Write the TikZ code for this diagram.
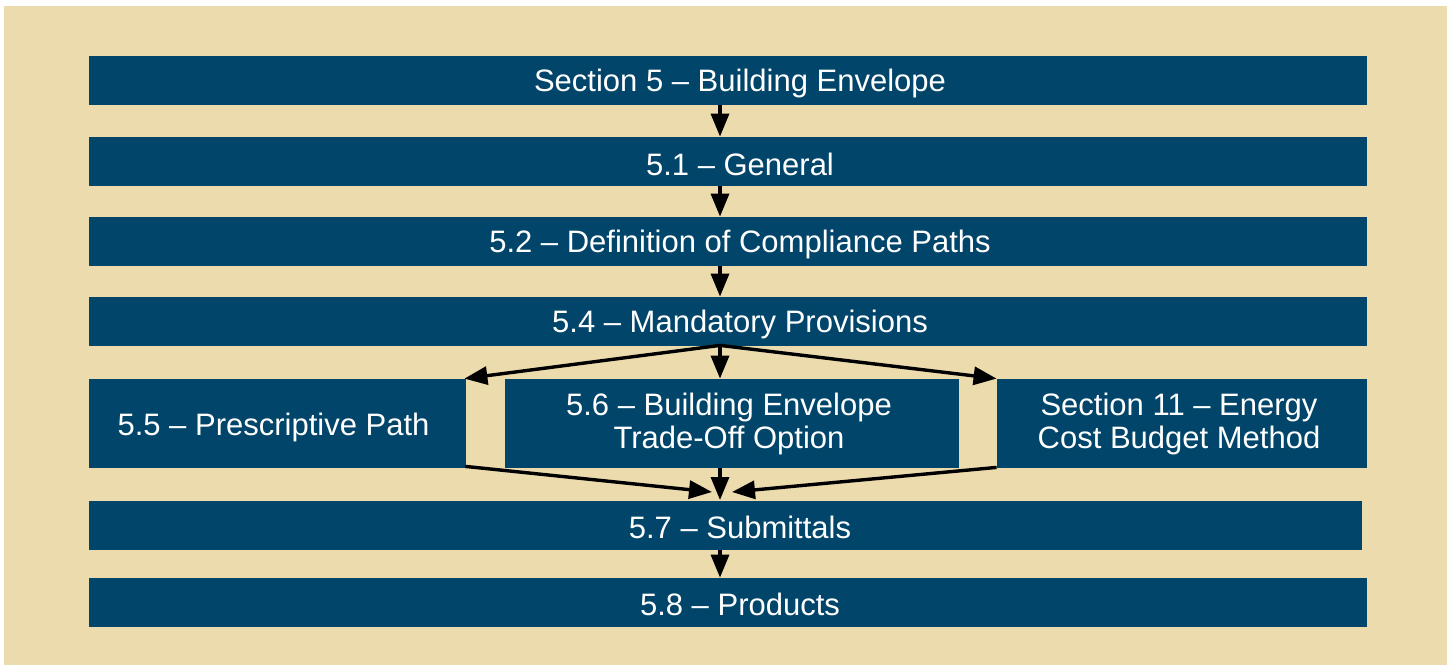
\documentclass[tikz,border=0pt]{standalone}
\usepackage{fontspec}
\setmainfont{Liberation Sans}
\usetikzlibrary{arrows.meta,calc}
\definecolor{bgbeige}{RGB}{235,219,173}
\definecolor{barblue}{RGB}{1,69,106}
\tikzset{
  bar/.style={fill=barblue, draw=none, inner sep=0pt, minimum height=24.5pt},
  txt/.style={text=white, font=\fontsize{15.5pt}{16.5pt}\selectfont, align=center, inner sep=0pt},
  arr/.style={line width=1.7pt, draw=black, -{Triangle[length=11.5pt,width=9pt]}},
}
\begin{document}
\begin{tikzpicture}[x=0.5pt,y=-0.5pt]
\useasboundingbox (0,0) rectangle (1447,665);
\fill[bgbeige] (4,6) rectangle (1447,665);
\coordinate (ax) at (720,0);
% bars
\node[bar, minimum width=639pt] (s5) at (728,80.5) {};
\node[bar, minimum width=639pt] (s51) at (728,161.5) {};
\node[bar, minimum width=639pt] (s52) at (728,241.5) {};
\node[bar, minimum width=639pt] (s54) at (728,321.5) {};
\node[bar, minimum width=188.5pt, minimum height=44.5pt] (s55) at (277.5,423.5) {};
\node[bar, minimum width=227pt, minimum height=44.5pt] (s56) at (732,423.5) {};
\node[bar, minimum width=185pt, minimum height=44.5pt] (s11) at (1182,423.5) {};
\node[bar, minimum width=636.5pt] (s57) at (725.5,525.5) {};
\node[bar, minimum width=639pt] (s58) at (728,602.5) {};
% texts
\node[txt] (t5) at (740,83.5) {Section 5 – Building Envelope};
\node[txt] (t51) at (740,164.5) {5.1 – General};
\node[txt] (t52) at (740,244.5) {5.2 – Definition of Compliance Paths};
\node[txt] (t54) at (740,324) {5.4 – Mandatory Provisions};
\node[txt] (t55) at (273.5,427.5) {5.5 – Prescriptive Path};
\node[txt] (t56) at (729,424) {5.6 – Building Envelope\\Trade-Off Option};
\node[txt] (t11) at (1179,424) {Section 11 – Energy\\Cost Budget Method};
\node[txt] (t57) at (740,527.5) {5.7 – Submittals};
\node[txt] (t58) at (740,604.5) {5.8 – Products};
% arrows
\draw[arr] (s5.south -| ax) -- (s51.north -| ax);
\draw[arr] (s51.south -| ax) -- (s52.north -| ax);
\draw[arr] (s52.south -| ax) -- (s54.north -| ax);
\coordinate (fork) at ($(s54.south -| ax)+(0,-1)$);
\draw[arr] (fork) -- (s56.north -| ax);
\draw[arr] (fork) -- ($(s55.north east)+(-2,0)$);
\draw[arr] (fork) -- ($(s11.north west)+(0,0)$);
\coordinate (join) at (720,500);
\coordinate (joinl) at (712,492);
\coordinate (joinr) at (732,492);
\draw[arr] (s56.south -| ax) -- (join);
\draw[arr] ($(s55.south east)+(-1,-2)$) -- (joinl);
\draw[arr] ($(s11.south west)+(0,-1)$) -- (joinr);
\draw[arr] (s57.south -| ax) -- (s58.north -| ax);
\end{tikzpicture}
\end{document}
